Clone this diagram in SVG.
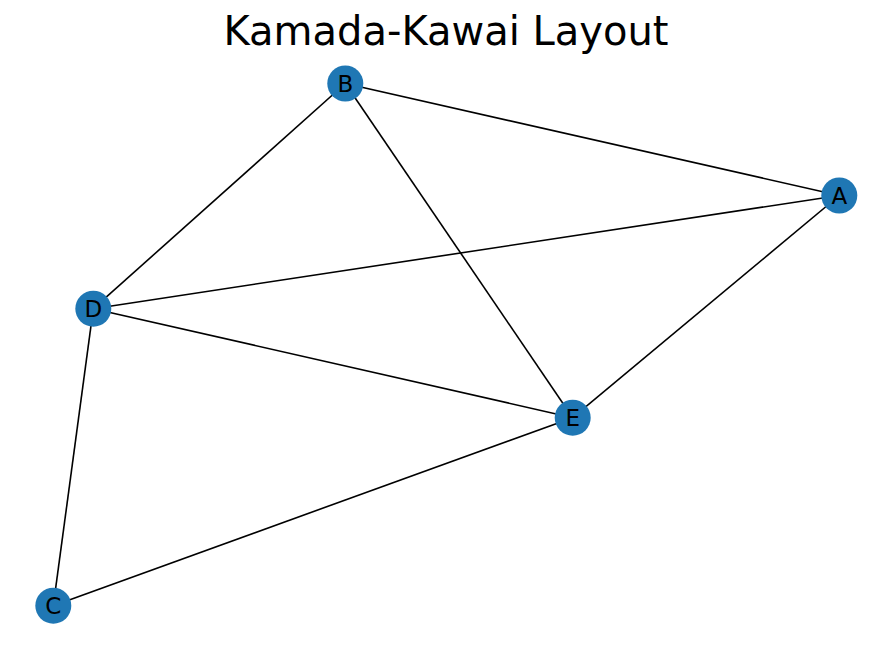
<svg xmlns="http://www.w3.org/2000/svg" width="892" height="647" viewBox="0 0 892 647">
<style>
.e{stroke:#000;stroke-width:1.6;fill:none}
.n{fill:#1f77b4}
.l{font-family:"DejaVu Sans",sans-serif;font-size:23px;fill:#000;text-anchor:middle}
.t{font-family:"DejaVu Sans",sans-serif;font-size:40px;fill:#000;text-anchor:middle}
</style>
<rect width="892" height="647" fill="#fff"/>
<text class="t" x="446" y="45">Kamada-Kawai Layout</text>
<g id="edges">
<line class="e" x1="345.3" y1="83.5" x2="839.3" y2="195.5"/>
<line class="e" x1="345.3" y1="83.5" x2="93.3" y2="308.7"/>
<line class="e" x1="345.3" y1="83.5" x2="572.7" y2="417.7"/>
<line class="e" x1="839.3" y1="195.5" x2="93.3" y2="308.7"/>
<line class="e" x1="839.3" y1="195.5" x2="572.7" y2="417.7"/>
<line class="e" x1="93.3" y1="308.7" x2="572.7" y2="417.7"/>
<line class="e" x1="93.3" y1="308.7" x2="53.3" y2="605.7"/>
<line class="e" x1="53.3" y1="605.7" x2="572.7" y2="417.7"/>
</g>
<g id="node-A"><circle class="n" cx="839.3" cy="195.5" r="18"/><text class="l" x="839.3" y="203.9">A</text></g>
<g id="node-B"><circle class="n" cx="345.3" cy="83.5" r="18"/><text class="l" x="345.3" y="91.9">B</text></g>
<g id="node-C"><circle class="n" cx="53.3" cy="605.7" r="18"/><text class="l" x="53.3" y="614.1">C</text></g>
<g id="node-D"><circle class="n" cx="93.3" cy="308.7" r="18"/><text class="l" x="93.3" y="317.1">D</text></g>
<g id="node-E"><circle class="n" cx="572.7" cy="417.7" r="18"/><text class="l" x="572.7" y="426.1">E</text></g>
</svg>
